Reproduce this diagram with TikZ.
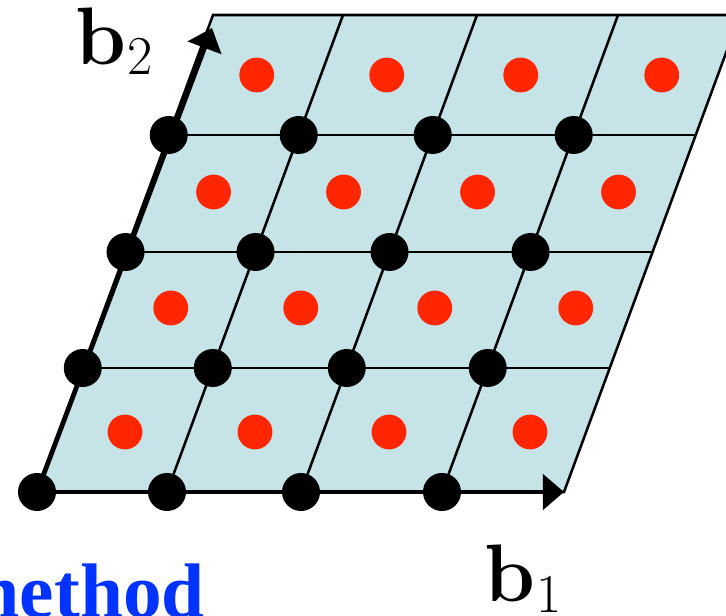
\documentclass[tikz,border=0pt]{standalone}
\usepackage{amsmath, xcolor, tikz}
\usepackage{fontspec}
\newfontfamily\methfont{Liberation Serif}
\usetikzlibrary{arrows.meta}

\definecolor{cellblue}{RGB}{198,228,232}
\definecolor{ctrred}{RGB}{255,38,0}
\definecolor{methblue}{RGB}{0,51,255}

% bold b with a lowered index, set as text so it scales
\newcommand{\veclab}[1]{\textbf{b}\kern0.04cm\raisebox{-0.25cm}{\fontsize{39}{40}\selectfont #1}}

\tikzset{
  gridln/.style={line width=1.8pt},
  vecarr/.style={line width=3.4pt,-{Triangle[length=0.53cm,width=0.88cm]}},
  latpt/.style={circle,fill=black,inner sep=0pt,minimum size=0.95cm},
  ctrpt/.style={circle,fill=ctrred,inner sep=0pt,minimum size=0.87cm},
  veclbl/.style={inner sep=0pt,font=\fontsize{58}{60}\selectfont},
  methlbl/.style={inner sep=0pt,text=methblue,font=\methfont\bfseries\fontsize{55}{60}\selectfont}
}

\begin{document}
\begin{tikzpicture}[x=0.025cm,y=-0.025cm]
\useasboundingbox (0,0) rectangle (726,616);
\clip (0,0) rectangle (726,616);
%Start with the corners of every cell, row by row,
% then shade the whole area and lay the grid on top.
\foreach \j/\ry in {0/492,1/368,2/252,3/135,4/15}{
  \foreach \i/\cx in {0/0,1/130,2/264,3/405,4/527}{
    \coordinate (c\i\j) at ({37+0.369*(492-\ry)+\cx},\ry);
  }
}
\fill[cellblue] (c00) -- (c40) -- (c44) -- (c04) -- cycle;
\foreach \k in {1,2,3}{
  \draw[gridln] (c0\k) -- (c4\k);
  \draw[gridln] (c\k0) -- (c\k4);
}
\draw[gridln] (c00) -- (c40) -- (c44) -- (c04) -- cycle;
% the two basis vectors
\coordinate (b2end) at (212,28);
\draw[vecarr] (c00) -- (c40);
\draw[vecarr] (c00) -- (b2end);
% lattice points and the centre of each cell
\foreach \i in {0,...,3}{
  \foreach \j in {0,...,3}{
    \node[latpt] (p\i\j) at (c\i\j) {};
    \node[ctrpt] (q\i\j) at ([shift={(88,-60)}]c\i\j) {};
  }
}
\node[veclbl,anchor=base west] (lb2) at (75,65) {\veclab{2}};
\node[veclbl,anchor=base west] (lb1) at (484,602) {\veclab{1}};
\node[methlbl,anchor=base east] (meth) at (205,618) {method};
\end{tikzpicture}
\end{document}
